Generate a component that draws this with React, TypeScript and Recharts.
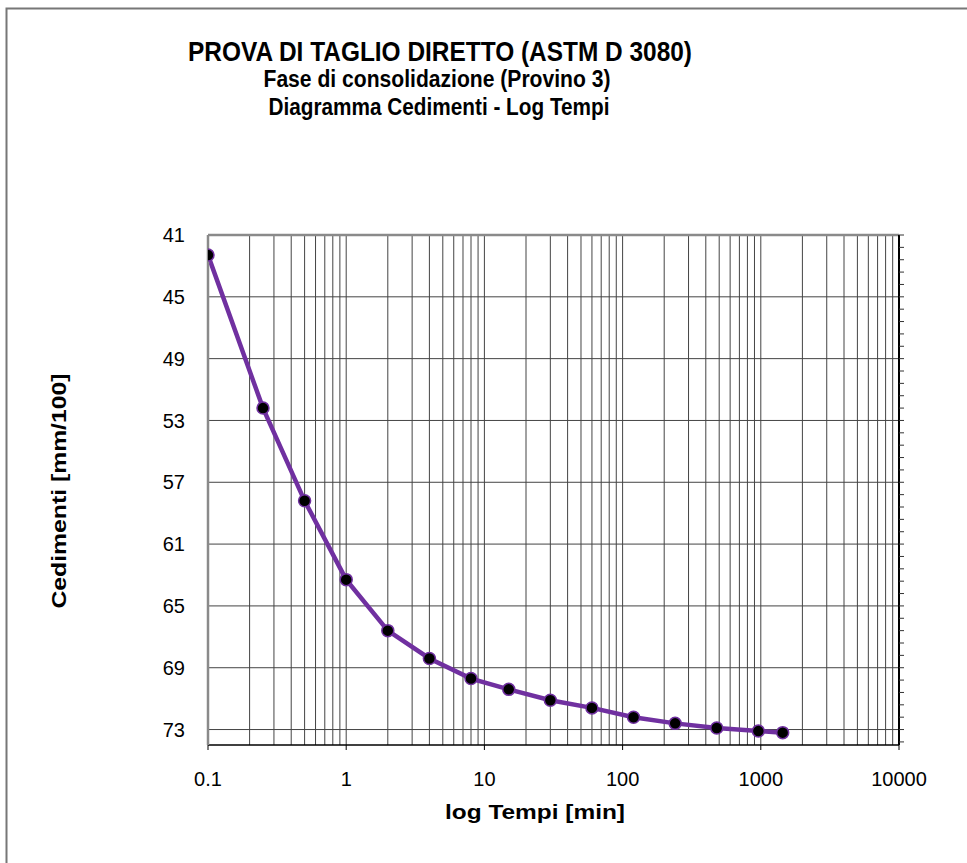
import React from 'react';
import { LineChart, Line, XAxis, YAxis, ReferenceLine } from 'recharts';

// tempi in minuti, cedimenti in mm/100
const tempi = [0.1, 0.25, 0.5, 1, 2, 4, 8, 15, 30, 60, 120, 240, 480, 960, 1440];
const cedimenti = [42.3, 52.2, 58.2, 63.3, 66.6, 68.4, 69.7, 70.4, 71.1, 71.6, 72.2, 72.6, 72.9, 73.1, 73.2];

const xTicks = [0.1, 1, 10, 100, 1000, 10000];
const xMinorGrid = [
  0.2, 0.3, 0.4, 0.5, 0.6, 0.7, 0.8, 0.9,
  2, 3, 4, 5, 6, 7, 8, 9,
  20, 30, 40, 50, 60, 70, 80, 90,
  200, 300, 400, 500, 600, 700, 800, 900,
  2000, 3000, 4000, 5000, 6000, 7000, 8000, 9000,
];
const yTicks = [41, 45, 49, 53, 57, 61, 65, 69, 73];
const yMinorTicks = [
  41, 41.8, 42.6, 43.4, 44.2, 45, 45.8, 46.6, 47.4, 48.2, 49, 49.8, 50.6, 51.4,
  52.2, 53, 53.8, 54.6, 55.4, 56.2, 57, 57.8, 58.6, 59.4, 60.2, 61, 61.8, 62.6,
  63.4, 64.2, 65, 65.8, 66.6, 67.4, 68.2, 69, 69.8, 70.6, 71.4, 72.2, 73, 73.8,
];

const data = tempi.map((t, i) => ({ t, ced: cedimenti[i] }));

const FONT = "'Liberation Sans', Arial, Helvetica, sans-serif";
const GRID = '#444';
const PURPLE = '#7030A0';

export default function App() {
  return (
    <div style={{ position: 'absolute', left: 0, top: 0, width: 967, height: 863, background: '#fff' }}>
      <LineChart
        width={967}
        height={863}
        data={data}
        margin={{ top: 235, right: 58, bottom: 88, left: 148 }}
        style={{ fontFamily: FONT }}
      >
        <XAxis
          dataKey="t"
          type="number"
          scale="log"
          domain={[0.1, 10000]}
          ticks={xTicks}
          interval={0}
          allowDataOverflow
          height={30}
          axisLine={{ stroke: '#000', strokeWidth: 1.5 }}
          tickLine={{ stroke: '#000' }}
          tickSize={5}
          tickMargin={22}
          tick={{ fill: '#000', fontSize: 20, fontFamily: FONT }}
        />
        <YAxis
          yAxisId="left"
          type="number"
          domain={[41, 74]}
          reversed
          ticks={yTicks}
          interval={0}
          allowDataOverflow
          width={60}
          axisLine={{ stroke: '#8a8a8a', strokeWidth: 2.5 }}
          tickLine={false}
          tickSize={0}
          tickMargin={23}
          tick={{ fill: '#000', fontSize: 20, fontFamily: FONT }}
        />
        <YAxis
          yAxisId="right"
          orientation="right"
          type="number"
          domain={[41, 74]}
          reversed
          ticks={yMinorTicks}
          interval={0}
          allowDataOverflow
          width={10}
          axisLine={{ stroke: '#000', strokeWidth: 2 }}
          tickLine={{ stroke: '#333' }}
          tickSize={5}
          tickFormatter={() => ''}
        />
        {xMinorGrid.map((v) => (
          <ReferenceLine key={'vx' + v} x={v} yAxisId="left" stroke={GRID} strokeWidth={1} />
        ))}
        {xTicks.slice(1, -1).map((v) => (
          <ReferenceLine key={'vX' + v} x={v} yAxisId="left" stroke={GRID} strokeWidth={1} />
        ))}
        {yTicks.slice(1).map((v) => (
          <ReferenceLine key={'hy' + v} y={v} yAxisId="left" stroke={GRID} strokeWidth={1} />
        ))}
        <ReferenceLine y={41} yAxisId="left" stroke="#8a8a8a" strokeWidth={2.5} />
        <Line
          yAxisId="left"
          dataKey="ced"
          type="linear"
          stroke={PURPLE}
          strokeWidth={4.5}
          dot={{ r: 6, fill: '#000', stroke: PURPLE, strokeWidth: 1.5 }}
          isAnimationActive={false}
        />
      </LineChart>
      <svg
        width={967}
        height={863}
        style={{ position: 'absolute', left: 0, top: 0, pointerEvents: 'none' }}
      >
        <path d="M6.5 870 L6.5 8.5 L970 8.5" fill="none" stroke="#777" strokeWidth={2} />
        <g fontFamily={FONT} fontWeight="bold" fill="#000" textAnchor="middle">
          <text x={440} y={61} fontSize={28} textLength={504} lengthAdjust="spacingAndGlyphs">
            PROVA DI TAGLIO DIRETTO (ASTM D 3080)
          </text>
          <text x={437} y={87} fontSize={23} textLength={347} lengthAdjust="spacingAndGlyphs">
            Fase di consolidazione (Provino 3)
          </text>
          <text x={439} y={115} fontSize={23} textLength={341} lengthAdjust="spacingAndGlyphs">
            Diagramma Cedimenti - Log Tempi
          </text>
          <text x={535} y={819} fontSize={21} textLength={180} lengthAdjust="spacingAndGlyphs">
            log Tempi [min]
          </text>
          <text
            x={0}
            y={0}
            fontSize={21}
            textLength={235}
            lengthAdjust="spacingAndGlyphs"
            transform="translate(66 491) rotate(-90)"
          >
            Cedimenti [mm/100]
          </text>
        </g>
      </svg>
    </div>
  );
}
